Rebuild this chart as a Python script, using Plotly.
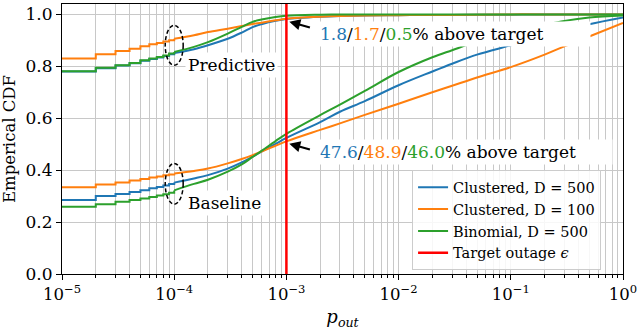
import math
import plotly.graph_objects as go

# step part of the ECDF (p_out is a multiple of 1e-5)
x_steps = [1e-5, 2e-5, 3e-5, 4e-5, 5e-5, 6e-5, 7e-5, 8e-5, 9e-5, 1e-4]
# smooth part
x_smooth = [1e-4, 1.5e-4, 2e-4, 3e-4, 4e-4, 5e-4, 6e-4, 8e-4, 1e-3, 2e-3, 3e-3,
            5e-3, 1e-2, 2e-2, 3e-2, 5e-2, 1e-1, 2e-1, 3e-1, 5e-1, 1.0]

# Baseline
clu500_base_steps = [0.285, 0.300, 0.308, 0.316, 0.323, 0.330, 0.335, 0.341, 0.347, 0.352]
clu100_base_steps = [0.334, 0.345, 0.352, 0.360, 0.366, 0.372, 0.376, 0.380, 0.383, 0.387]
bin500_base_steps = [0.259, 0.269, 0.278, 0.285, 0.291, 0.297, 0.302, 0.307, 0.313, 0.322]
clu500_base = [0.352, 0.368, 0.381, 0.406, 0.430, 0.452, 0.471, 0.501, 0.524, 0.585, 0.625,
               0.666, 0.727, 0.780, 0.810, 0.845, 0.881, 0.918, 0.938, 0.962, 0.988]
clu100_base = [0.387, 0.397, 0.406, 0.426, 0.443, 0.458, 0.472, 0.494, 0.511, 0.555, 0.580,
               0.613, 0.656, 0.700, 0.725, 0.757, 0.797, 0.845, 0.877, 0.915, 0.967]
bin500_base = [0.322, 0.347, 0.363, 0.394, 0.422, 0.451, 0.474, 0.512, 0.540, 0.612, 0.652,
               0.705, 0.778, 0.835, 0.862, 0.895, 0.932, 0.960, 0.975, 0.988, 0.996]

# Predictive
clu500_pred_steps = [0.780, 0.793, 0.803, 0.812, 0.821, 0.828, 0.834, 0.840, 0.846, 0.851]
clu100_pred_steps = [0.830, 0.846, 0.859, 0.868, 0.877, 0.885, 0.890, 0.896, 0.900, 0.906]
bin500_pred_steps = [0.781, 0.794, 0.804, 0.813, 0.823, 0.830, 0.836, 0.842, 0.849, 0.855]
clu500_pred = [0.851, 0.866, 0.881, 0.906, 0.930, 0.951, 0.962, 0.975, 0.982, 0.991, 0.994,
               0.996, 0.997, 0.998, 0.998, 0.999, 0.999, 0.9995, 1.0, 1.0, 1.0]
clu100_pred = [0.906, 0.920, 0.932, 0.945, 0.955, 0.963, 0.968, 0.977, 0.983, 0.991, 0.994,
               0.996, 0.997, 0.998, 0.998, 0.999, 1.0, 1.0, 1.0, 1.0, 1.0]
bin500_pred = [0.855, 0.875, 0.893, 0.926, 0.952, 0.971, 0.980, 0.990, 0.995, 0.999, 1.0,
               1.0, 1.0, 1.0, 1.0, 1.0, 1.0, 1.0, 1.0, 1.0, 1.0]

names = ["Clustered, D = 500", "Clustered, D = 100", "Binomial, D = 500"]
colors = ["#1f77b4", "#ff7f0e", "#2ca02c"]
above_pred = [1.8, 1.7, 0.5]
above_base = [47.6, 48.9, 46.0]
target = 1e-3

x_ticks = [1e-5, 1e-4, 1e-3, 1e-2, 1e-1, 1.0]
y_range = [0, 1.04]

fig = go.Figure()

base = [(clu500_base_steps, clu500_base), (clu100_base_steps, clu100_base), (bin500_base_steps, bin500_base)]
pred = [(clu500_pred_steps, clu500_pred), (clu100_pred_steps, clu100_pred), (bin500_pred_steps, bin500_pred)]

for i in range(3):
    for k, (steps, smooth) in enumerate([base[i], pred[i]]):
        fig.add_trace(go.Scatter(x=x_steps, y=steps, mode='lines', line_shape='hv',
                                 line=dict(color=colors[i], width=2),
                                 name=names[i], legendgroup=names[i], showlegend=(k == 0)))
        fig.add_trace(go.Scatter(x=x_smooth, y=smooth, mode='lines', line_shape='spline',
                                 line=dict(color=colors[i], width=2),
                                 name=names[i], legendgroup=names[i], showlegend=False))

fig.add_trace(go.Scatter(x=[target, target], y=[y_range[0], y_range[1] + 0.1], mode='lines',
                         line=dict(color='#ff0000', width=2.5), name='Target outage <i>ϵ</i>'))

minor_vals = [m * 10 ** e for e in range(-5, 0) for m in range(2, 10)]

fig.update_xaxes(type='log', range=[-5, 0], tickmode='array', tickvals=x_ticks,
                 ticktext=['10<sup>%s</sup>' % str(round(math.log10(v))).replace('-', '−') for v in x_ticks],
                 tickfont=dict(size=16.5), ticklabeloverflow='allow',
                 ticks='outside', ticklen=5, tickwidth=1, tickcolor='black',
                 showline=True, linecolor='black', linewidth=1.2, mirror=True,
                 showgrid=True, gridcolor='#c8c8c8', gridwidth=1,
                 minor=dict(tickmode='array', tickvals=minor_vals, ticks='outside', ticklen=3,
                            tickcolor='black', showgrid=True, gridcolor='#c8c8c8', gridwidth=1),
                 title=dict(text='<i>p</i><sub><i>out</i></sub>', standoff=10, font=dict(size=18)))
fig.update_yaxes(range=y_range, dtick=0.2, tick0=0, tickformat='.1f', tickfont=dict(size=17),
                 ticks='outside', ticklen=5, tickwidth=1, tickcolor='black',
                 showline=True, linecolor='black', linewidth=1.2, mirror=True,
                 showgrid=True, gridcolor='#c8c8c8', gridwidth=1, zeroline=False,
                 title=dict(text='Emperical CDF', standoff=7, font=dict(size=16.5)))

# dashed ellipses around x = 1e-4
cx = math.log10(1e-4)
for y0, y1 in [(0.804, 0.958), (0.269, 0.426)]:
    fig.add_shape(type='circle', xref='x', yref='y', x0=10 ** (cx - 0.08), x1=10 ** (cx + 0.08),
                  y0=y0, y1=y1, line=dict(color='black', width=1.5, dash='4px,2.5px'))

def colored(vals):
    parts = ['<span style="color:%s">%.1f</span>' % (c, v) for c, v in zip(colors, vals)]
    return '/'.join(parts) + '% above target'

txt = dict(xref='x', yref='y', showarrow=False, xanchor='left', yanchor='middle',
           bgcolor='white', borderpad=2, font=dict(size=17), align='left')
fig.add_annotation(x=-3.90, y=0.806, text='Predictive', **txt)
fig.add_annotation(x=-3.90, y=0.273, text='Baseline', **txt)
fig.add_annotation(x=-2.725, y=0.923, text=colored(above_pred), width=268, **txt)
fig.add_annotation(x=-2.725, y=0.470, text=colored(above_base), width=290, **txt)

for ytip in [0.975, 0.505]:
    fig.add_annotation(x=math.log10(target), y=ytip, xref='x', yref='y', text='', showarrow=True,
                       ax=25, ay=7, arrowhead=2, arrowsize=1, arrowwidth=2.2, arrowcolor='black', standoff=3)

fig.update_layout(width=640, height=330, margin=dict(l=62, r=14, t=3, b=56),
                  plot_bgcolor='white', paper_bgcolor='white',
                  font=dict(family='DejaVu Serif', size=17, color='black'),
                  legend=dict(x=0.624, y=0.384, xanchor='left', yanchor='top', tracegroupgap=0,
                              bgcolor='rgba(255,255,255,0.85)', bordercolor='#cccccc', borderwidth=1,
                              font=dict(size=14.5)))

fig.write_html("out.html", config={'displayModeBar': False},
               post_script="document.body.style.margin='0px';")
